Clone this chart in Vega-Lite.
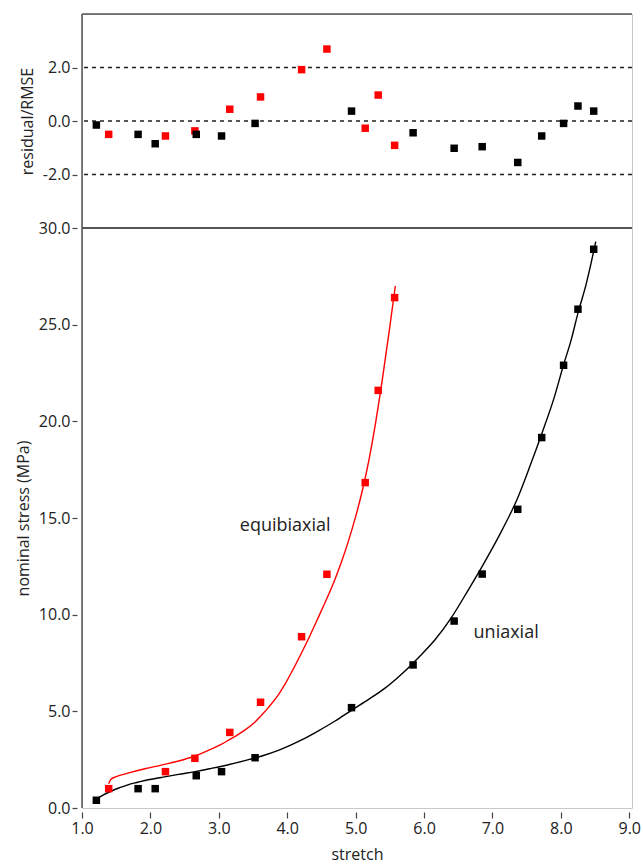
{
  "$schema": "https://vega.github.io/schema/vega-lite/v6.json",
  "padding": {"left": 14, "top": 12, "right": 5, "bottom": 0},
  "spacing": 0,
  "bounds": "flush",
  "background": "white",
  "config": {
    "font": "Open Sans",
    "view": {"stroke": "#c8c8c8", "strokeWidth": 1},
    "axis": {
      "grid": false, "domain": false, "tickColor": "#444", "tickWidth": 1.2, "tickSize": 5, "offset": 5,
      "labelFont": "Open Sans", "labelFontSize": 16, "labelColor": "#222", "labelPadding": 2,
      "titleFont": "Open Sans", "titleFontSize": 16, "titleFontWeight": "normal", "titleColor": "#222", "titlePadding": 7
    }
  },
  "datasets": {
    "pts": [
      {"mode": "equibiaxial", "stretch": 1.39, "stress": 1.0, "resid": -0.50},
      {"mode": "equibiaxial", "stretch": 2.22, "stress": 1.88, "resid": -0.56},
      {"mode": "equibiaxial", "stretch": 2.65, "stress": 2.57, "resid": -0.37},
      {"mode": "equibiaxial", "stretch": 3.16, "stress": 3.91, "resid": 0.44},
      {"mode": "equibiaxial", "stretch": 3.61, "stress": 5.47, "resid": 0.90},
      {"mode": "equibiaxial", "stretch": 4.21, "stress": 8.86, "resid": 1.92},
      {"mode": "equibiaxial", "stretch": 4.58, "stress": 12.09, "resid": 2.69},
      {"mode": "equibiaxial", "stretch": 5.14, "stress": 16.83, "resid": -0.27},
      {"mode": "equibiaxial", "stretch": 5.33, "stress": 21.6, "resid": 0.97},
      {"mode": "equibiaxial", "stretch": 5.57, "stress": 26.4, "resid": -0.91},
      {"mode": "uniaxial", "stretch": 1.21, "stress": 0.40, "resid": -0.15},
      {"mode": "uniaxial", "stretch": 1.82, "stress": 1.0, "resid": -0.50},
      {"mode": "uniaxial", "stretch": 2.07, "stress": 1.0, "resid": -0.85},
      {"mode": "uniaxial", "stretch": 2.67, "stress": 1.67, "resid": -0.50},
      {"mode": "uniaxial", "stretch": 3.04, "stress": 1.88, "resid": -0.56},
      {"mode": "uniaxial", "stretch": 3.53, "stress": 2.60, "resid": -0.09},
      {"mode": "uniaxial", "stretch": 4.94, "stress": 5.19, "resid": 0.37},
      {"mode": "uniaxial", "stretch": 5.84, "stress": 7.40, "resid": -0.44},
      {"mode": "uniaxial", "stretch": 6.44, "stress": 9.67, "resid": -1.02},
      {"mode": "uniaxial", "stretch": 6.85, "stress": 12.1, "resid": -0.96},
      {"mode": "uniaxial", "stretch": 7.37, "stress": 15.45, "resid": -1.55},
      {"mode": "uniaxial", "stretch": 7.72, "stress": 19.16, "resid": -0.56},
      {"mode": "uniaxial", "stretch": 8.04, "stress": 22.9, "resid": -0.09},
      {"mode": "uniaxial", "stretch": 8.25, "stress": 25.8, "resid": 0.56},
      {"mode": "uniaxial", "stretch": 8.48, "stress": 28.9, "resid": 0.37}
    ],
    "fit": [
      {"mode": "uniaxial", "stretch": 1.21, "stress": 0.45},
      {"mode": "uniaxial", "stretch": 1.30, "stress": 0.65},
      {"mode": "uniaxial", "stretch": 1.43, "stress": 0.88},
      {"mode": "uniaxial", "stretch": 1.55, "stress": 1.05},
      {"mode": "uniaxial", "stretch": 1.67, "stress": 1.20},
      {"mode": "uniaxial", "stretch": 1.80, "stress": 1.32},
      {"mode": "uniaxial", "stretch": 1.92, "stress": 1.42},
      {"mode": "uniaxial", "stretch": 2.16, "stress": 1.58},
      {"mode": "uniaxial", "stretch": 2.41, "stress": 1.74},
      {"mode": "uniaxial", "stretch": 2.65, "stress": 1.88},
      {"mode": "uniaxial", "stretch": 2.89, "stress": 2.05},
      {"mode": "uniaxial", "stretch": 3.14, "stress": 2.24},
      {"mode": "uniaxial", "stretch": 3.38, "stress": 2.45},
      {"mode": "uniaxial", "stretch": 3.63, "stress": 2.69},
      {"mode": "uniaxial", "stretch": 3.87, "stress": 2.98},
      {"mode": "uniaxial", "stretch": 4.05, "stress": 3.25},
      {"mode": "uniaxial", "stretch": 4.21, "stress": 3.52},
      {"mode": "uniaxial", "stretch": 4.45, "stress": 3.98},
      {"mode": "uniaxial", "stretch": 4.70, "stress": 4.5},
      {"mode": "uniaxial", "stretch": 4.95, "stress": 5.08},
      {"mode": "uniaxial", "stretch": 5.19, "stress": 5.62},
      {"mode": "uniaxial", "stretch": 5.43, "stress": 6.2},
      {"mode": "uniaxial", "stretch": 5.67, "stress": 6.92},
      {"mode": "uniaxial", "stretch": 5.91, "stress": 7.75},
      {"mode": "uniaxial", "stretch": 6.16, "stress": 8.7},
      {"mode": "uniaxial", "stretch": 6.40, "stress": 9.85},
      {"mode": "uniaxial", "stretch": 6.65, "stress": 11.3},
      {"mode": "uniaxial", "stretch": 6.85, "stress": 12.5},
      {"mode": "uniaxial", "stretch": 7.10, "stress": 14.1},
      {"mode": "uniaxial", "stretch": 7.37, "stress": 16.05},
      {"mode": "uniaxial", "stretch": 7.55, "stress": 17.7},
      {"mode": "uniaxial", "stretch": 7.72, "stress": 19.35},
      {"mode": "uniaxial", "stretch": 7.90, "stress": 21.2},
      {"mode": "uniaxial", "stretch": 8.04, "stress": 22.93},
      {"mode": "uniaxial", "stretch": 8.15, "stress": 24.2},
      {"mode": "uniaxial", "stretch": 8.25, "stress": 25.6},
      {"mode": "uniaxial", "stretch": 8.37, "stress": 27.1},
      {"mode": "uniaxial", "stretch": 8.48, "stress": 28.8},
      {"mode": "uniaxial", "stretch": 8.51, "stress": 29.3},
      {"mode": "equibiaxial", "stretch": 1.39, "stress": 1.25},
      {"mode": "equibiaxial", "stretch": 1.42, "stress": 1.48},
      {"mode": "equibiaxial", "stretch": 1.50, "stress": 1.62},
      {"mode": "equibiaxial", "stretch": 1.67, "stress": 1.80},
      {"mode": "equibiaxial", "stretch": 1.92, "stress": 2.03},
      {"mode": "equibiaxial", "stretch": 2.16, "stress": 2.22},
      {"mode": "equibiaxial", "stretch": 2.41, "stress": 2.43},
      {"mode": "equibiaxial", "stretch": 2.65, "stress": 2.69},
      {"mode": "equibiaxial", "stretch": 2.89, "stress": 3.05},
      {"mode": "equibiaxial", "stretch": 3.04, "stress": 3.30},
      {"mode": "equibiaxial", "stretch": 3.16, "stress": 3.55},
      {"mode": "equibiaxial", "stretch": 3.28, "stress": 3.80},
      {"mode": "equibiaxial", "stretch": 3.40, "stress": 4.08},
      {"mode": "equibiaxial", "stretch": 3.53, "stress": 4.45},
      {"mode": "equibiaxial", "stretch": 3.62, "stress": 4.78},
      {"mode": "equibiaxial", "stretch": 3.72, "stress": 5.18},
      {"mode": "equibiaxial", "stretch": 3.87, "stress": 5.85},
      {"mode": "equibiaxial", "stretch": 3.97, "stress": 6.42},
      {"mode": "equibiaxial", "stretch": 4.09, "stress": 7.2},
      {"mode": "equibiaxial", "stretch": 4.21, "stress": 8.03},
      {"mode": "equibiaxial", "stretch": 4.33, "stress": 8.9},
      {"mode": "equibiaxial", "stretch": 4.46, "stress": 9.9},
      {"mode": "equibiaxial", "stretch": 4.60, "stress": 11.0},
      {"mode": "equibiaxial", "stretch": 4.70, "stress": 11.85},
      {"mode": "equibiaxial", "stretch": 4.80, "stress": 12.8},
      {"mode": "equibiaxial", "stretch": 4.90, "stress": 13.87},
      {"mode": "equibiaxial", "stretch": 5.00, "stress": 15.07},
      {"mode": "equibiaxial", "stretch": 5.10, "stress": 16.45},
      {"mode": "equibiaxial", "stretch": 5.20, "stress": 18.1},
      {"mode": "equibiaxial", "stretch": 5.30, "stress": 20.1},
      {"mode": "equibiaxial", "stretch": 5.40, "stress": 22.4},
      {"mode": "equibiaxial", "stretch": 5.50, "stress": 24.9},
      {"mode": "equibiaxial", "stretch": 5.58, "stress": 27.0}
    ],
    "labels": [
      {"mode": "equibiaxial", "stretch": 3.97, "stress": 14.6, "text": "equibiaxial"},
      {"mode": "uniaxial", "stretch": 7.2, "stress": 9.07, "text": "uniaxial"}
    ],
    "dash": [{"r": 2}, {"r": 0}, {"r": -2}]
  },
  "vconcat": [
    {
      "width": 550,
      "height": 214,
      "layer": [
        {
          "data": {"name": "dash"},
          "mark": {"type": "rule", "strokeDash": [4, 4], "strokeWidth": 1.5, "color": "#222"},
          "encoding": {
            "y": {"field": "r", "type": "quantitative", "scale": {"domain": [-4, 4], "nice": false},
              "axis": {"values": [-2, 0, 2], "title": "residual/RMSE", "labelExpr": "replace(format(datum.value, '.1f'), '\u2212', '-')"}}
          }
        },
        {
          "data": {"values": [{}]},
          "mark": {"type": "rule", "color": "#555", "strokeWidth": 1.5},
          "encoding": {"x": {"datum": 1, "type": "quantitative", "scale": {"domain": [1, 9.04], "nice": false}, "axis": null}}
        },
        {
          "data": {"values": [{}]},
          "mark": {"type": "rule", "color": "#555", "strokeWidth": 1.5},
          "encoding": {"y": {"datum": 4, "type": "quantitative"}}
        },
        {
          "data": {"values": [{}]},
          "mark": {"type": "rule", "color": "#555", "strokeWidth": 2},
          "encoding": {"y": {"datum": -4, "type": "quantitative"}}
        },
        {
          "data": {"name": "pts"},
          "mark": {"type": "square", "size": 56, "opacity": 1, "filled": true},
          "encoding": {
            "x": {"field": "stretch", "type": "quantitative", "axis": null},
            "y": {"field": "resid", "type": "quantitative"},
            "color": {"field": "mode", "type": "nominal", "scale": {"domain": ["uniaxial", "equibiaxial"], "range": ["#000000", "#ff0000"]}, "legend": null}
          }
        }
      ]
    },
    {
      "width": 550,
      "height": 580,
      "layer": [
        {
          "data": {"name": "fit"},
          "mark": {"type": "line", "strokeWidth": 1.4, "interpolate": "monotone"},
          "encoding": {
            "x": {"field": "stretch", "type": "quantitative", "scale": {"domain": [1, 9.04], "nice": false},
              "axis": {"values": [1, 2, 3, 4, 5, 6, 7, 8, 9], "format": ".1f", "title": "stretch", "labelFlush": false, "tickSize": 6, "offset": 4, "titlePadding": 10}},
            "y": {"field": "stress", "type": "quantitative", "scale": {"domain": [0, 30], "nice": false},
              "axis": {"values": [0, 5, 10, 15, 20, 25, 30], "format": ".1f", "title": "nominal stress (MPa)"}},
            "color": {"field": "mode", "type": "nominal", "scale": {"domain": ["uniaxial", "equibiaxial"], "range": ["#000000", "#ff0000"]}, "legend": null}
          }
        },
        {
          "data": {"name": "pts"},
          "mark": {"type": "square", "size": 56, "opacity": 1, "filled": true},
          "encoding": {
            "x": {"field": "stretch", "type": "quantitative"},
            "y": {"field": "stress", "type": "quantitative"},
            "color": {"field": "mode", "type": "nominal", "legend": null}
          }
        },
        {
          "data": {"name": "labels"},
          "mark": {"type": "text", "fontSize": 18, "color": "#222", "align": "center", "baseline": "middle", "font": "Open Sans"},
          "encoding": {
            "x": {"field": "stretch", "type": "quantitative"},
            "y": {"field": "stress", "type": "quantitative"},
            "text": {"field": "text"}
          }
        },
        {
          "data": {"values": [{}]},
          "mark": {"type": "rule", "color": "#555", "strokeWidth": 1.5},
          "encoding": {"x": {"datum": 1, "type": "quantitative"}}
        },
        {
          "data": {"values": [{}]},
          "mark": {"type": "rule", "color": "#555", "strokeWidth": 2},
          "encoding": {"y": {"datum": 30, "type": "quantitative"}}
        }
      ]
    }
  ]
}
